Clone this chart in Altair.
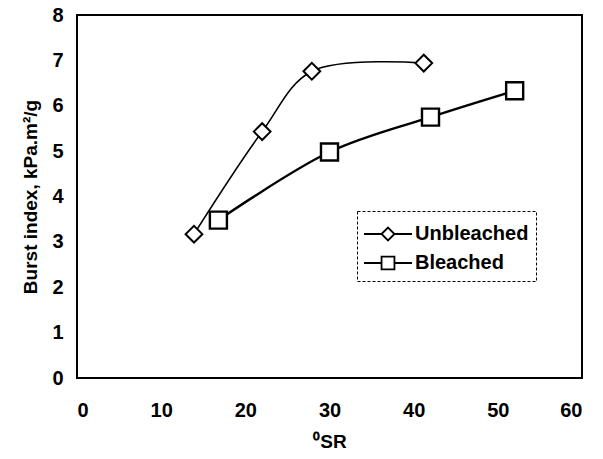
import altair as alt
import pandas as pd

unb_x = [13.9, 22.0, 27.9, 41.2]
unb_y = [3.17, 5.43, 6.76, 6.94]
ble_x = [16.8, 30.0, 42.0, 52.0]
ble_y = [3.48, 4.98, 5.75, 6.33]
series = ["Unbleached", "Bleached"]
x_ticks = [0, 10, 20, 30, 40, 50, 60]
y_ticks = [0, 1, 2, 3, 4, 5, 6, 7, 8]

df = pd.DataFrame({
    "x": unb_x + ble_x,
    "y": unb_y + ble_y,
    "Series": [series[0]] * len(unb_x) + [series[1]] * len(ble_x),
})

FONT = "Liberation Sans"

xenc = alt.X("x:Q", scale=alt.Scale(domain=[0, 60], nice=False),
             axis=alt.Axis(values=x_ticks, title="⁰SR", labelPadding=22,
                           titlePadding=12))
yenc = alt.Y("y:Q", scale=alt.Scale(domain=[0, 8], nice=False),
             axis=alt.Axis(values=y_ticks, title="Burst index, kPa.m²/g",
                           labelPadding=14, titlePadding=11))

line_u = alt.Chart(df).transform_filter(alt.datum.Series == "Unbleached").mark_line(
    color="black", strokeWidth=1.6, interpolate="catmull-rom").encode(x=xenc, y=yenc)
line_b = alt.Chart(df).transform_filter(alt.datum.Series == "Bleached").mark_line(
    color="black", strokeWidth=2.4, interpolate="catmull-rom").encode(x=xenc, y=yenc)

pts_u = alt.Chart(df).transform_filter(alt.datum.Series == "Unbleached").mark_point(
    shape="diamond", size=280, filled=True, fill="white", stroke="black",
    strokeWidth=2, opacity=1).encode(x=xenc, y=yenc)
pts_b = alt.Chart(df).transform_filter(alt.datum.Series == "Bleached").mark_point(
    shape="square", size=290, filled=True, fill="white", stroke="black",
    strokeWidth=2.4, opacity=1).encode(x=xenc, y=yenc)

diamond_path = "M-1.6,0L-0.43,0M-0.43,0L0,-0.43L0.43,0L0,0.43Z M0.43,0L1.6,0"
square_path = "M-1.6,0L-0.43,0M-0.43,-0.43L0.43,-0.43L0.43,0.43L-0.43,0.43Z M0.43,0L1.6,0"

legend_layer = alt.Chart(df).mark_point(opacity=0).encode(
    x=xenc, y=yenc,
    shape=alt.Shape("Series:N",
                    scale=alt.Scale(domain=series, range=[diamond_path, square_path]),
                    legend=alt.Legend(
                        title=None, orient="none", legendX=280, legendY=196,
                        symbolSize=900, symbolOpacity=1, symbolStrokeColor="black",
                        symbolFillColor="white", symbolStrokeWidth=1.8,
                        symbolOffset=8,
                        labelFont=FONT, labelFontSize=20, labelFontWeight="bold",
                        labelColor="black", labelOffset=11,
                        padding=7, rowPadding=2, fillColor="white")),
)

chart = alt.layer(line_u, line_b, pts_u, pts_b, legend_layer).properties(
    width=505, height=363,
    autosize=alt.AutoSizeParams(type="none"),
    padding={"left": 69, "top": 7, "right": 13, "bottom": 73},
).configure_view(stroke="black", strokeWidth=2).configure_axis(
    grid=False, domain=False, ticks=False,
    labelFont=FONT, labelFontSize=20, labelFontWeight="bold", labelColor="black",
    titleFont=FONT, titleFontSize=19, titleFontWeight="bold", titleColor="black",
).configure_legend(strokeColor="black", strokeDash=[3, 2], strokeWidth=1)

chart.save("out.html", embed_options={"renderer": "svg", "actions": False})
